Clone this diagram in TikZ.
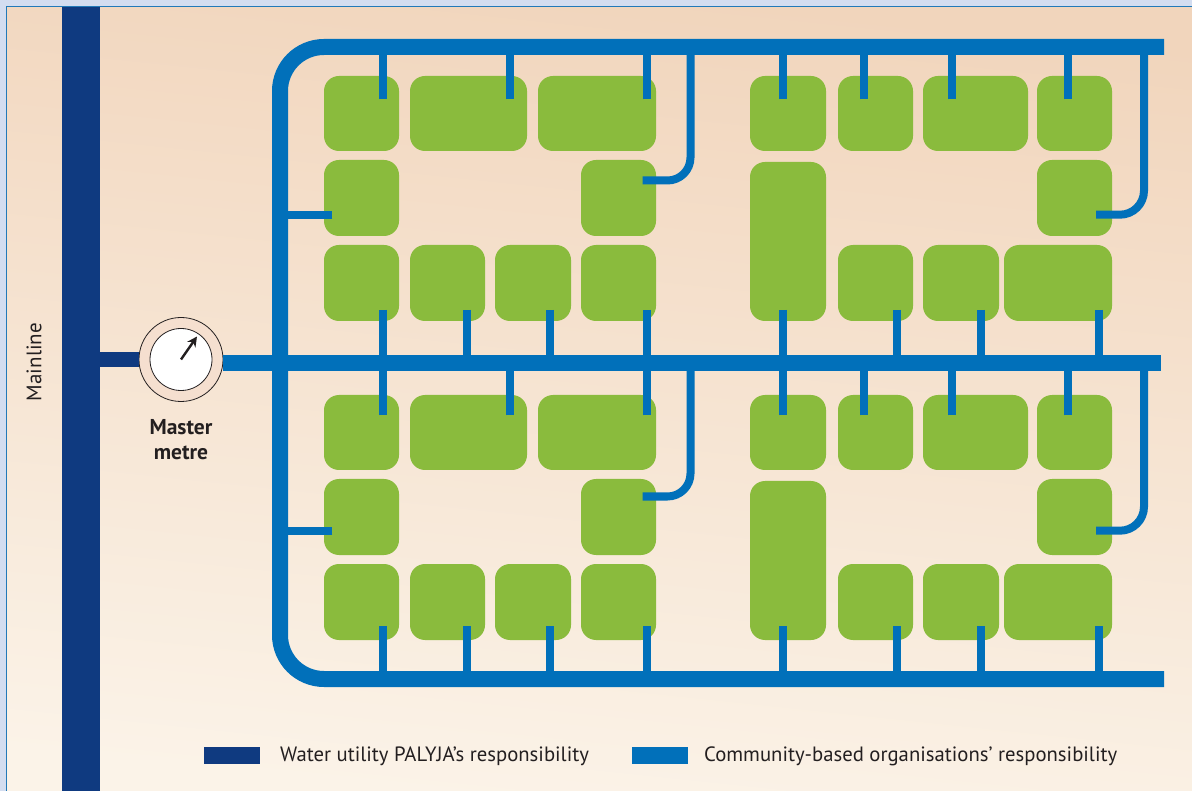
\documentclass[tikz,border=0pt]{standalone}
\usepackage{fontspec}
\setmainfont{PT Sans}
\usetikzlibrary{calc,arrows.meta}
\definecolor{pagebg}{HTML}{D3DDF0}
\definecolor{framec}{HTML}{2279B8}
\definecolor{bgtop}{HTML}{F1D5BC}
\definecolor{bgbot}{HTML}{FBF3E8}
\definecolor{plot}{HTML}{8ABB3D}
\definecolor{cbo}{HTML}{0170BA}
\definecolor{utility}{HTML}{0F3A80}
\definecolor{ink}{HTML}{231F20}
\definecolor{metrering}{HTML}{F5DFCF}
\tikzset{
  x=1pt,y=-1pt,
  plotbox/.style={fill=plot,rounded corners=15pt,draw=none},
  mainpipe/.style={draw=cbo,line width=16pt,line cap=butt},
  stub/.style={draw=cbo,line width=8pt,line cap=butt},
  utilpipe/.style={draw=utility,line width=15pt,line cap=butt},
  lbl/.style={text=ink,font=\fontsize{20.7}{24}\selectfont,inner sep=0pt,anchor=base west},
}
\newcommand{\plotrect}[5]{\fill[plotbox] (#2,#3) rectangle (#4,#5) node[midway,inner sep=0pt,minimum size=0pt] (#1) {};}
\begin{document}
\begin{tikzpicture}
\useasboundingbox (0,0) rectangle (1192,791);
\fill[pagebg] (0,0) rectangle (1192,791);
\shade[shading=axis,top color=bgtop,bottom color=bgbot,shading angle=-6] (6.5,7) rectangle (1192,791);
\draw[framec,line width=1pt] (6.5,791) -- (6.5,7) -- (1192,7);
% mainline
\fill[utility] (62,7.5) rectangle (99.5,791);
\node[rotate=90,text=ink,font=\fontsize{21}{24}\selectfont,inner sep=0pt] (mainline) at (34,362) {Mainline};
% plots: lower block sits 319 below the upper one
\foreach \s/\d in {a/0,b/319}{
\begin{scope}[yshift=-\d pt]
\plotrect{\s r1c1}{324}{76}{399}{151}
\plotrect{\s r1c2}{410}{76}{527}{151}
\plotrect{\s r1c3}{538}{76}{656}{151}
\plotrect{\s r1c4}{750}{76}{826}{151}
\plotrect{\s r1c5}{838}{76}{913}{151}
\plotrect{\s r1c6}{923}{76}{1028}{151}
\plotrect{\s r1c7}{1037}{76}{1112}{151}
\plotrect{\s r2c1}{324}{160}{399}{236}
\plotrect{\s r2c2}{581}{160}{656}{236}
\plotrect{\s r2c3}{750}{162}{826}{321}
\plotrect{\s r2c4}{1037}{160}{1112}{236}
\plotrect{\s r3c1}{324}{245}{399}{321}
\plotrect{\s r3c2}{410}{245}{485}{321}
\plotrect{\s r3c3}{495}{245}{571}{321}
\plotrect{\s r3c4}{581}{245}{656}{321}
\plotrect{\s r3c5}{838}{245}{913}{321}
\plotrect{\s r3c6}{923}{245}{999}{321}
\plotrect{\s r3c7}{1004}{245}{1112}{321}
\end{scope}
}
% service pipes: lower block sits 316 below the upper one
\foreach \s/\d in {a/0,b/316}{
\begin{scope}[yshift=-\d pt]
\coordinate (\s top) at (0,47);
\coordinate (\s bot) at (0,363);
\foreach \x in {383,510,647,783,864,952,1068}{
  \coordinate (\s t\x) at (\x,99.5);
  \draw[stub] (\s t\x) -- (\s t\x |- \s top);
}
\foreach \x in {383,467,550,647,783,897,981,1099}{
  \coordinate (\s u\x) at (\x,310);
  \draw[stub] (\s u\x) -- (\s u\x |- \s bot);
}
\coordinate (\s l) at (332.3,214.7);
\draw[stub] (\s l) -- (280,214.7);
\coordinate (\s m) at (642.5,180.5);
\draw[stub,rounded corners=23pt] (\s m) -| (690.5,47);
\coordinate (\s n) at (1096,214.7);
\draw[stub,rounded corners=24pt] (\s n) -| (1144,47);
\end{scope}
}
% main pipes
\coordinate (pipeT) at (1164,47);
\coordinate (pipeB) at (1164,679);
\coordinate (pipeM) at (1161,363);
\draw[mainpipe,rounded corners=44pt] (pipeT) -- (280,47) -- (280,679) -- (pipeB);
% meter
\node[circle,draw=ink,line width=0.8pt,fill=metrering,minimum size=84pt,inner sep=0pt] (meter) at (181,359.5) {};
\node[circle,draw=ink,line width=0.8pt,fill=white,minimum size=62pt,inner sep=0pt] (dial) at (181,359.5) {};
\coordinate (utilJ) at (99,359.5);
\draw[utilpipe] (utilJ) -- (meter.west);
\draw[mainpipe] (meter.east |- pipeM) -- (pipeM);
\coordinate (needle) at (197,336.5);
\draw[ink,line width=2.4pt,line cap=butt,-{Stealth[length=10pt,width=10pt]}] (dial.center) -- (needle);
\node[text=ink,font=\bfseries\fontsize{21.5}{25.5}\selectfont,align=center,inner sep=0pt] (mastertxt) at (181,439.5) {Master\\metre};
% legend
\node[fill=utility,minimum width=56pt,minimum height=17pt,inner sep=0pt] (key1) at (232,755.5) {};
\node[lbl] (txt1) at (280,761.5) {Water utility PALYJA’s responsibility};
\node[fill=cbo,minimum width=56pt,minimum height=17pt,inner sep=0pt] (key2) at (660,755.5) {};
\node[lbl] (txt2) at (704,761.5) {Community-based organisations’ responsibility};
\end{tikzpicture}
\end{document}
